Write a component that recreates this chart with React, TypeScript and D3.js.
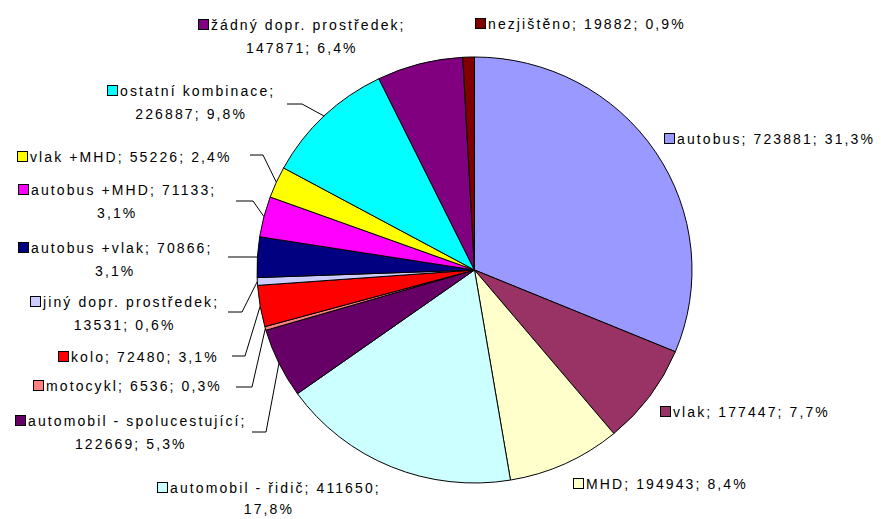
import React, { useEffect, useRef } from "react";
import * as d3 from "d3";

const categories = [
  "autobus",
  "vlak",
  "MHD",
  "automobil - řidič",
  "automobil - spolucestující",
  "motocykl",
  "kolo",
  "jiný dopr. prostředek",
  "autobus +vlak",
  "autobus +MHD",
  "vlak +MHD",
  "ostatní kombinace",
  "žádný dopr. prostředek",
  "nezjištěno",
];
const values = [723881, 177447, 194943, 411650, 122669, 6536, 72480, 13531, 70866, 71133, 55226, 226887, 147871, 19882];
const percents = ["31,3", "7,7", "8,4", "17,8", "5,3", "0,3", "3,1", "0,6", "3,1", "3,1", "2,4", "9,8", "6,4", "0,9"];
const colors = [
  "#9999ff", "#993366", "#ffffcc", "#ccffff", "#660066", "#ff8080", "#ff0000",
  "#ccccff", "#000080", "#ff00ff", "#ffff00", "#00ffff", "#800080", "#800000",
];

// where each label sits: legend box left x, middle of first line y,
// wrap 0 = one line, 1 = break after name, 2 = break before percent
// elbow = [x start of horizontal, x end, y]
const labelPos: { x: number; y: number; wrap: number; gap?: number; elbow?: number[] }[] = [
  { x: 664, y: 139, wrap: 0 },
  { x: 660, y: 412, wrap: 0 },
  { x: 573, y: 484, wrap: 0 },
  { x: 157, y: 488, wrap: 2, gap: 21 },
  { x: 15, y: 421, wrap: 1, elbow: [252, 266, 432] },
  { x: 33, y: 386, wrap: 0, elbow: [236, 252, 387] },
  { x: 58, y: 357, wrap: 0, elbow: [232, 245, 356] },
  { x: 30, y: 302, wrap: 1, elbow: [228, 242, 312] },
  { x: 18, y: 248, wrap: 2, elbow: [228, 254, 257] },
  { x: 18, y: 190, wrap: 2, elbow: [236, 253, 201] },
  { x: 17, y: 157, wrap: 0, elbow: [250, 263, 155] },
  { x: 107, y: 91, wrap: 1, elbow: [287, 302, 104] },
  { x: 198, y: 25, wrap: 1 },
  { x: 475, y: 24, wrap: 0 },
];

export default function App() {
  const ref = useRef<SVGSVGElement>(null);

  useEffect(() => {
    document.body.style.margin = "0";
    const svg = d3.select(ref.current);
    svg.selectAll("*").remove();

    const cx = 474.5, cy = 270, rx = 217.5, ry = 213;
    const arcs = d3.pie<number>().sort(null).value((d) => d)(values);
    const arc = d3.arc<d3.PieArcDatum<number>>().innerRadius(0).outerRadius(rx);

    const g = svg.append("g").attr("transform", `translate(${cx},${cy}) scale(1,${ry / rx})`);
    g.selectAll("path")
      .data(arcs)
      .join("path")
      .attr("d", arc)
      .attr("fill", (d, i) => colors[i])
      .attr("stroke", "#000")
      .attr("stroke-width", 1);

    const lab = svg.append("g")
      .attr("font-family", "'Liberation Sans', Arial, sans-serif")
      .attr("font-size", 14)
      .attr("letter-spacing", 2.1)
      .attr("fill", "#000");

    arcs.forEach((a, i) => {
      const p = labelPos[i];
      const name = categories[i], v = values[i], pct = percents[i] + "%";
      let l1 = `${name}; ${v}; ${pct}`, l2 = "";
      if (p.wrap === 1) { l1 = `${name};`; l2 = `${v}; ${pct}`; }
      if (p.wrap === 2) { l1 = `${name}; ${v};`; l2 = pct; }

      if (p.elbow) {
        const mid = (a.startAngle + a.endAngle) / 2;
        const ex = cx + rx * Math.sin(mid), ey = cy - ry * Math.cos(mid);
        const [x0, x1, y] = p.elbow;
        lab.append("polyline")
          .attr("points", `${x0},${y} ${x1},${y} ${ex},${ey}`)
          .attr("fill", "none")
          .attr("stroke", "#000")
          .attr("stroke-width", 1);
      }

      lab.append("rect")
        .attr("x", p.x + 0.5).attr("y", p.y - 5.5)
        .attr("width", 10).attr("height", 10)
        .attr("fill", colors[i]).attr("stroke", "#000");
      const t1 = lab.append("text")
        .attr("x", p.x + 13).attr("y", p.y).attr("dy", "0.36em")
        .text(l1);
      if (l2) {
        const w = (t1.node() as SVGTextElement).getComputedTextLength();
        lab.append("text")
          .attr("x", p.x + (13 + w) / 2).attr("y", p.y + (p.gap ?? 23)).attr("dy", "0.36em")
          .attr("text-anchor", "middle")
          .text(l2);
      }
    });
  }, []);

  return <svg ref={ref} width={881} height={519} style={{ display: "block", background: "#fff" }} />;
}
